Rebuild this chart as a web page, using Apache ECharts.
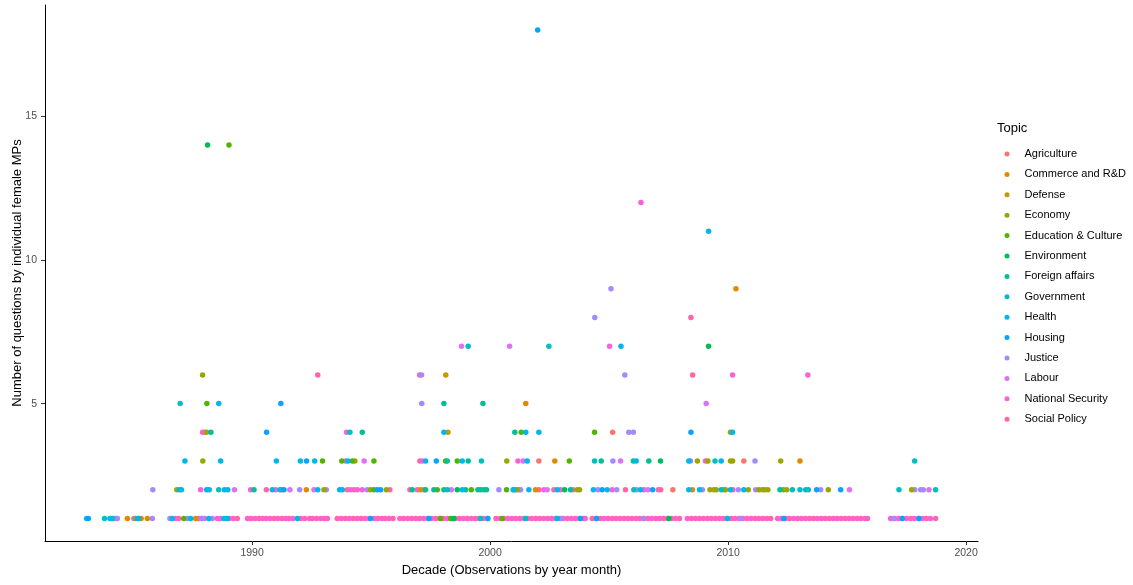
<!DOCTYPE html>
<html>
<head>
<meta charset="utf-8">
<script src="https://cdn.jsdelivr.net/npm/echarts@6/dist/echarts.min.js"></script>
<style>
html,body{margin:0;padding:0;background:#fff;}
#chart{width:1133px;height:585px;}
</style>
</head>
<body>
<div id="chart"></div>
<script>
// ---- tick labels ----
const xTicks = [1990, 2000, 2010, 2020];
const yTicks = [5, 10, 15];

// ---- topics (legend order) ----
const topics = ["Agriculture","Commerce and R&D","Defense","Economy","Education & Culture","Environment","Foreign affairs","Government","Health","Housing","Justice","Labour","National Security","Social Policy"];
const topicColors = ["#F8766D","#E38900","#C49A00","#99A800","#53B400","#00BC56","#00C094","#00BFC4","#00B6EB","#06A4FF","#A58AFF","#DF70F8","#FB61D7","#FF66A8"];

// ---- observations: [decade (year month as decimal year), number of questions] ----
const agriculture = [[2007.68,2],[2002.05,3],[2010.66,3],[2005.15,4]];
const commerce = [[1984.76,1],[1985.1,1],[1985.34,1],[1985.6,1],[1987.63,1],[1991.24,2],[1992.28,2],[1997.08,2],[2001.91,2],[2008.5,2],[2009.82,2],[2002.72,3],[2013.02,3],[2001.5,5],[2010.33,9]];
const defense = [[2009.4,2],[2011.44,2],[1998.23,4],[1998.14,6]];
const economy = [[1986.84,2],[1993.02,2],[1994.98,2],[1995.64,2],[2001.14,2],[2003.66,2],[2003.76,2],[2009.24,2],[2009.5,2],[2009.89,2],[2010.85,2],[2011.3,2],[2011.53,2],[2011.67,2],[2012.32,2],[2012.46,2],[2014.21,2],[2017.71,2],[1987.93,3],[1994.32,3],[2000.7,3],[2008.71,3],[2009.15,3],[2010.1,3],[2010.19,3],[2012.21,3],[1988.09,4],[2010.1,4],[1987.92,6]];
const education = [[1987.13,1],[1997.92,1],[1998.34,1],[2000.51,1],[1995.12,2],[1997.78,2],[1999.21,2],[2000.69,2],[1992.96,3],[1993.77,3],[1994.21,3],[1995.12,3],[1998.13,3],[1998.62,3],[2003.33,3],[2001.31,4],[2004.39,4],[1988.1,5],[1989.03,14]];
const environment = [[1998.48,1],[2007.51,1],[1998.62,2],[2003.13,2],[2007.16,3],[2009.18,7],[1988.13,14]];
const foreignAffairs = [[1990.08,2],[1996.73,2],[1997.29,2],[1997.64,2],[1998.06,2],[1998.97,2],[1999.49,2],[1999.6,2],[1999.74,2],[1999.85,2],[2003.38,2],[2012.18,2],[1998.2,3],[1999.08,3],[2004.67,3],[2006.02,3],[2006.67,3],[1988.27,4],[1994.63,4],[2001.04,4],[1998.06,5],[1999.7,5]];
const government = [[1983.8,1],[1984.13,1],[1985.18,1],[1999.6,1],[2001.49,1],[1987.03,2],[1988.6,2],[1998.2,2],[2001.0,2],[2006.04,2],[2009.71,2],[2012.7,2],[2013.02,2],[2013.26,2],[2013.37,2],[2017.18,2],[2018.72,2],[1999.64,3],[2004.39,3],[2009.45,3],[2017.84,3],[1994.11,4],[1986.98,5],[1999.08,7],[2002.47,7]];
const health = [[1983.05,1],[1984.03,1],[1985.24,1],[1986.65,1],[1987.42,1],[1988.18,1],[1988.82,1],[1988.96,1],[1991.9,1],[2002.82,1],[2009.97,1],[1986.95,2],[1988.09,2],[1988.2,2],[1988.84,2],[1988.98,2],[1990.85,2],[1991.17,2],[1992.76,2],[1993.68,2],[1993.79,2],[1998.83,2],[2000.97,2],[2001.63,2],[2002.82,2],[2004.34,2],[2004.92,2],[2006.32,2],[2008.35,2],[2008.8,2],[2010.1,2],[2010.66,2],[1987.18,3],[1988.68,3],[1991.02,3],[1992.03,3],[1992.63,3],[1994.03,3],[1997.29,3],[1998.83,3],[2001.56,3],[2006.14,3],[2008.35,3],[2009.71,3],[1998.06,4],[2001.5,4],[2002.05,4],[2010.19,4],[1988.6,5],[2005.5,7],[2009.18,11]];
const housing = [[1983.12,1],[1994.98,1],[1997.43,1],[1999.91,1],[2003.8,1],[2004.47,1],[2012.34,1],[2017.32,1],[2018.02,1],[1991.34,2],[1995.26,2],[1995.4,2],[2004.71,2],[2006.83,2],[2013.72,2],[2014.73,2],[1992.29,3],[1997.74,3],[1990.61,4],[2008.44,4],[1991.21,5],[2002.0,18]];
const justice = [[1984.34,1],[1985.03,1],[1985.81,1],[1986.55,1],[1987.28,1],[1987.9,1],[1988.33,1],[2003.0,1],[2006.46,1],[2010.53,1],[2016.97,1],[1985.83,2],[1992.0,2],[1993.12,2],[1994.84,2],[2000.37,2],[2001.28,2],[2004.53,2],[2005.32,2],[2006.16,2],[2008.92,2],[2010.43,2],[2011.16,2],[2013.89,2],[2017.84,2],[2018.09,2],[2018.2,2],[2005.16,3],[2008.42,3],[2011.13,3],[2005.83,4],[2006.02,4],[1997.13,5],[1997.12,6],[2005.66,6],[2004.4,8],[2005.08,9]];
const labour = [[1989.26,2],[1991.59,2],[1992.6,2],[1998.37,2],[2002.4,2],[2006.63,2],[2015.1,2],[2018.44,2],[1994.71,3],[2001.39,3],[2005.48,3],[2009.08,5],[1998.8,7],[2000.82,7]];
const nationalSecurity = [[1987.84,2],[1989.94,2],[1990.99,2],[1994.14,2],[1994.42,2],[1994.63,2],[1996.94,2],[2001.25,2],[2002.26,2],[2002.96,2],[2005.13,2],[2006.46,2],[2010.2,2],[1993.93,3],[1997.15,3],[2001.17,3],[2009.05,3],[1988.0,4],[1993.97,4],[2010.19,6],[2013.35,6],[2005.02,7],[2006.34,12]];
// months with exactly one question (dense band)
const nationalSecurityOnes = [1984.3,1986.79,1987.75,1988.0,1988.67,1989.21,1989.81,1990.13,1990.44,1990.75,1991.08,1991.41,1991.71,1992.21,1992.54,1992.88,1993.17,1993.75,1994.08,1994.42,1994.75,1995.13,1995.46,1995.75,1996.21,1996.54,1996.88,1997.21,1997.54,1997.88,1998.21,1998.54,1998.88,1999.21,1999.54,1999.88,2000.42,2000.75,2001.08,2001.42,2001.75,2002.08,2002.42,2002.75,2003.08,2003.42,2003.75,2004.0,2004.46,2004.79,2005.13,2005.46,2005.79,2006.13,2006.46,2006.79,2007.13,2007.46,2007.79,2008.29,2008.63,2008.96,2009.29,2009.63,2009.96,2010.29,2010.63,2010.96,2011.29,2011.63,2012.08,2012.42,2012.75,2013.08,2013.42,2013.75,2014.08,2014.42,2014.75,2015.08,2015.42,2015.75,2016.83,2017.17,2017.5,2017.83,2018.17,2018.5];
const socialPolicy = [[1990.6,2],[1994.0,2],[1994.28,2],[1995.79,2],[1996.63,2],[1997.22,2],[2001.07,2],[2002.05,2],[2002.68,2],[2003.48,2],[2005.69,2],[2007.07,2],[2007.17,2],[1997.05,3],[1987.92,4],[1992.76,6],[1997.04,6],[2008.51,6],[2008.44,8]];
const socialPolicyOnes = [1984.22,1986.92,1987.88,1988.54,1989.04,1989.38,1989.96,1990.29,1990.58,1990.92,1991.25,1991.54,1992.04,1992.42,1992.71,1993.04,1993.58,1993.92,1994.25,1994.58,1994.92,1995.29,1995.58,1995.92,1996.37,1996.71,1997.04,1997.38,1997.71,1998.04,1998.38,1998.71,1999.04,1999.38,1999.71,2000.25,2000.58,2000.92,2001.25,2001.58,2001.92,2002.25,2002.58,2002.92,2003.25,2003.58,2003.92,2004.29,2004.63,2004.96,2005.29,2005.63,2005.96,2006.29,2006.63,2006.96,2007.29,2007.63,2007.96,2008.46,2008.79,2009.13,2009.46,2009.79,2010.13,2010.46,2010.79,2011.13,2011.46,2011.79,2012.25,2012.58,2012.92,2013.25,2013.58,2013.92,2014.25,2014.58,2014.92,2015.25,2015.58,2015.86,2017.0,2017.33,2017.67,2018.0,2018.33,2018.72];

const topicData = {
  "Agriculture": agriculture,
  "Commerce and R&D": commerce,
  "Defense": defense,
  "Economy": economy,
  "Education & Culture": education,
  "Environment": environment,
  "Foreign affairs": foreignAffairs,
  "Government": government,
  "Health": health,
  "Housing": housing,
  "Justice": justice,
  "Labour": labour,
  "National Security": nationalSecurityOnes.map(x => [x, 1]).concat(nationalSecurity),
  "Social Policy": socialPolicyOnes.map(x => [x, 1]).concat(socialPolicy)
};

// draw the dense pink band first, other topics on top
const drawOrder = ["Social Policy","National Security","Labour","Justice","Agriculture","Commerce and R&D","Defense","Economy","Education & Culture","Environment","Foreign affairs","Government","Health","Housing"];

const FONT = '"Liberation Sans", Arial, sans-serif';

const series = drawOrder.map(name => ({
  name: name,
  type: 'scatter',
  data: topicData[name],
  symbol: 'circle',
  symbolSize: 5.5,
  itemStyle: { color: topicColors[topics.indexOf(name)], opacity: 1 },
  emphasis: { disabled: true }
}));

const chart = echarts.init(document.getElementById('chart'), null, { renderer: 'canvas' });
chart.setOption({
  animation: false,
  backgroundColor: '#ffffff',
  title: {
    text: 'Topic',
    left: 997, top: 122, padding: 0,
    textStyle: { fontFamily: FONT, fontSize: 13, fontWeight: 'normal', color: '#000' }
  },
  legend: {
    data: topics,
    orient: 'vertical',
    left: 1004.5, top: 147, padding: 0,
    icon: 'circle',
    itemWidth: 5, itemHeight: 5,
    itemGap: 6.4,
    selectedMode: false,
    textStyle: { fontFamily: FONT, fontSize: 11, color: '#000', lineHeight: 14, padding: [0,0,0,10] }
  },
  grid: { left: 45, right: 155, top: 5, bottom: 44, containLabel: false, outerBoundsMode: 'none' },
  xAxis: {
    type: 'value',
    min: 1981.3, max: 2020.5,
    name: 'Decade (Observations by year month)',
    nameLocation: 'middle', nameGap: 21,
    nameTextStyle: { fontFamily: FONT, fontSize: 13, color: '#000' },
    axisLine: { show: true, lineStyle: { color: '#000', width: 1 } },
    axisTick: { show: true, length: 4, customValues: xTicks, lineStyle: { color: '#333' } },
    axisLabel: { customValues: xTicks, margin: 7, fontFamily: FONT, fontSize: 10.5, color: '#4D4D4D', formatter: v => String(v) },
    splitLine: { show: false }
  },
  yAxis: {
    type: 'value',
    min: 0.22, max: 18.87,
    name: 'Number of questions by individual female MPs',
    nameLocation: 'middle', nameGap: 21, nameMoveOverlap: false,
    nameTextStyle: { fontFamily: FONT, fontSize: 13, color: '#000' },
    axisLine: { show: true, lineStyle: { color: '#000', width: 1 } },
    axisTick: { show: true, length: 4, customValues: yTicks, lineStyle: { color: '#333' } },
    axisLabel: { customValues: yTicks, margin: 8, fontFamily: FONT, fontSize: 10.5, color: '#4D4D4D', formatter: v => String(v) },
    splitLine: { show: false }
  },
  series: series
});
</script>
</body>
</html>
